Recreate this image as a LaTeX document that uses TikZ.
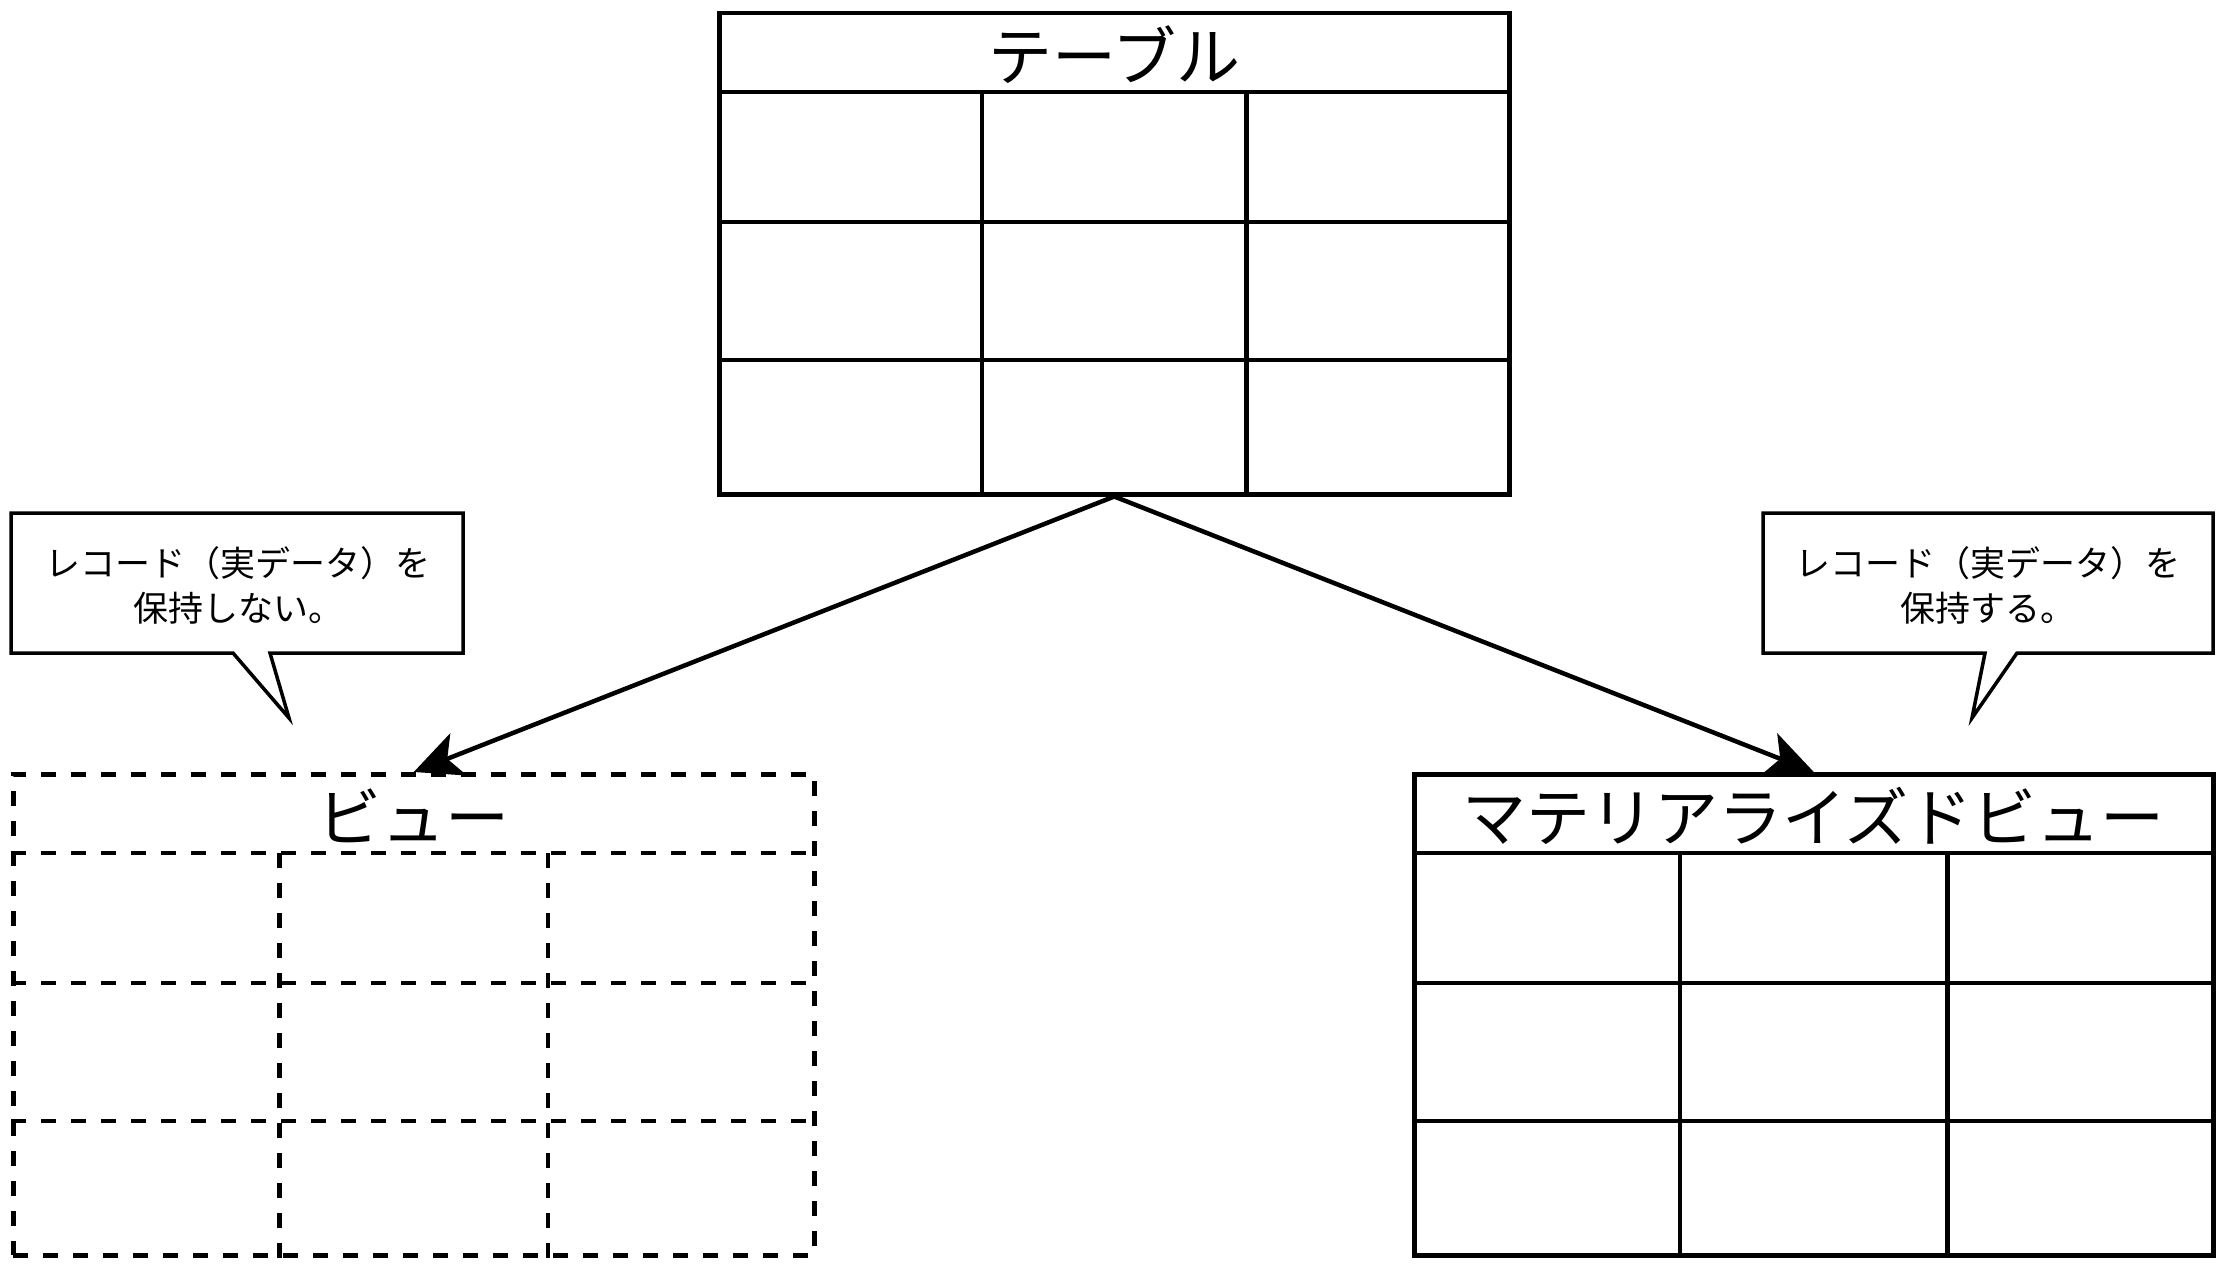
\documentclass[tikz,border=0pt]{standalone}
\usepackage{fontspec}
\setmainfont{Noto Sans CJK JP}
\usetikzlibrary{arrows.meta,calc}
\newcommand\tablelines[2]{%
  \draw[#2] ($(#1.north west)+(0,81)$) -- ($(#1.north east)+(0,81)$);
  \draw[#2] ($(#1.north west)+(0,211)$) -- ($(#1.north east)+(0,211)$);
  \draw[#2] ($(#1.north west)+(0,349)$) -- ($(#1.north east)+(0,349)$);
  \draw[#2] ($(#1.north west)!1/3!(#1.north east)+(0,81)$) -- ($(#1.south west)!1/3!(#1.south east)$);
  \draw[#2] ($(#1.north west)!2/3!(#1.north east)+(0,81)$) -- ($(#1.south west)!2/3!(#1.south east)$);
}
\begin{document}
\begin{tikzpicture}[x=1pt,y=-1pt,
  tablebox/.style={draw, line width=4.5pt, anchor=north west, minimum height=481pt, inner sep=0pt},
  gridline/.style={line width=4.5pt},
  dashgrid/.style={line width=4.5pt, dash pattern=on 15pt off 15pt},
  headtext/.style={font=\fontsize{64}{70}\selectfont, inner sep=0pt},
  calltext/.style={font=\fontsize{35}{45}\selectfont, align=center, inner sep=0pt},
  callshape/.style={draw, line width=3.5pt, line join=miter, fill=white},
  conn/.style={line width=4.5pt, -{Stealth[length=48pt,width=45pt,inset=12pt]}}]
\useasboundingbox (0,0) rectangle (2225,1265);
\fill[white] (0,0) rectangle (2225,1265);

% top table
\node[tablebox, minimum width=790pt] (T) at (717,11) {};
\tablelines{T}{gridline}
\node[headtext] (Tt) at ($(T.north)+(0,44)$) {テーブル};

% view (dashed)
\node[tablebox, dash pattern=on 15pt off 15pt, minimum width=801pt] (V) at (11,772) {};
\tablelines{V}{dashgrid}
\node[headtext] (Vt) at ($(V.north)+(0,44)$) {ビュー};

% materialized view
\node[tablebox, minimum width=799pt] (M) at (1412,772) {};
\tablelines{M}{gridline}
\node[headtext] (Mt) at ($(M.north)+(0,44)$) {マテリアライズドビュー};

% callouts
\draw[callshape] (11,513) -- (463,513) -- (463,653) -- (270,653) -- (289,718) -- (233,653) -- (11,653) -- cycle;
\node[calltext] (c1) at (238,585) {レコード（実データ）を\\保持しない。};
\draw[callshape] (1763,513) -- (2213,513) -- (2213,653) -- (2017,653) -- (1972,718) -- (1985,653) -- (1763,653) -- cycle;
\node[calltext] (c2) at (1988,585) {レコード（実データ）を\\保持する。};

% connectors
\draw[conn] (T.south) -- (V.north);
\draw[conn] (T.south) -- (M.north);
\end{tikzpicture}
\end{document}
